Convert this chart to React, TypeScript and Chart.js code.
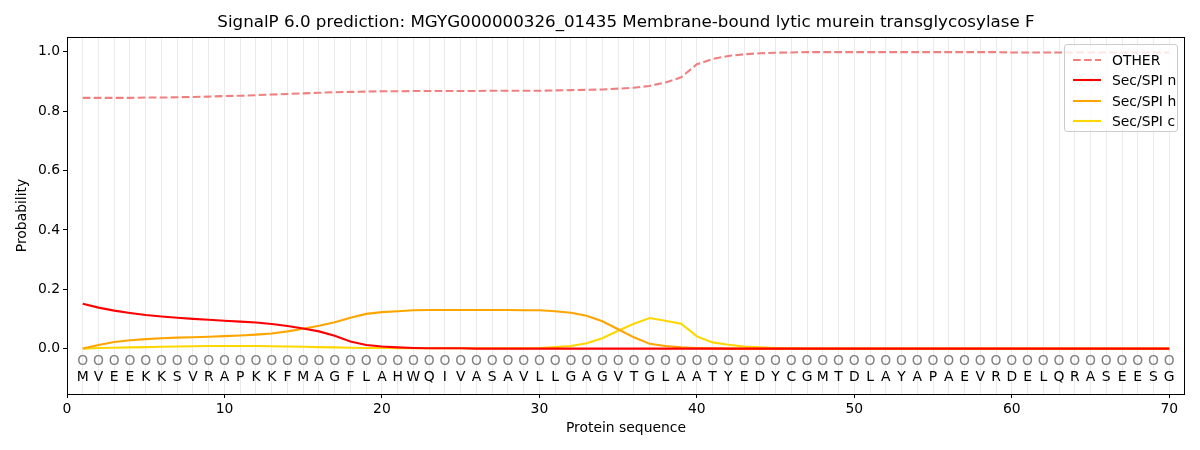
import React, { useEffect, useRef } from "react";
import { Chart, registerables } from "chart.js";

Chart.register(...registerables);

const sequence = "MVEEKKSVRAPKKFMAGFLAHWQIVASAVLLGAGVTGLAATYEDYCGMTDLAYAPAEVRDELQRASEESG".split("");
const positions = sequence.map((_, i) => i + 1);

const otherProb = [
  0.845, 0.845, 0.845, 0.845, 0.846, 0.846, 0.847, 0.848, 0.849, 0.851,
  0.852, 0.854, 0.856, 0.858, 0.86, 0.862, 0.864, 0.865, 0.866, 0.867,
  0.867, 0.868, 0.868, 0.868, 0.868, 0.868, 0.869, 0.869, 0.869, 0.869,
  0.87, 0.871, 0.872, 0.873, 0.876, 0.879, 0.885, 0.897, 0.914, 0.958,
  0.976, 0.986, 0.992, 0.995, 0.997, 0.998, 0.999, 0.999, 0.999, 0.999,
  0.999, 0.999, 0.999, 0.999, 0.999, 0.999, 0.999, 0.999, 0.999, 0.998,
  0.998, 0.998, 0.998, 0.998, 0.998, 0.998, 0.998, 0.998, 0.998, 0.998,
];
const secN = [
  0.151, 0.138, 0.128, 0.12, 0.113, 0.108, 0.104, 0.1, 0.097, 0.094,
  0.091, 0.088, 0.083, 0.076, 0.068, 0.058, 0.043, 0.024, 0.012, 0.007,
  0.004, 0.002, 0.001, 0.001, 0.001, 0, 0, 0, 0, 0,
  0, 0, 0, 0, 0, 0, 0, 0, 0, 0,
  0, 0, 0, 0, 0, 0, 0, 0, 0, 0,
  0, 0, 0, 0, 0, 0, 0, 0, 0, 0,
  0, 0, 0, 0, 0, 0, 0, 0, 0, 0,
];
const secH = [
  0.0, 0.012, 0.022, 0.028, 0.032, 0.035, 0.037, 0.038, 0.04, 0.042,
  0.044, 0.047, 0.051, 0.058, 0.067, 0.077, 0.089, 0.104, 0.117, 0.123,
  0.126, 0.129, 0.13, 0.13, 0.13, 0.13, 0.13, 0.13, 0.129, 0.129,
  0.126, 0.121, 0.111, 0.092, 0.065, 0.038, 0.016, 0.009, 0.004, 0.002,
  0.001, 0, 0, 0, 0, 0, 0, 0, 0, 0,
  0, 0, 0, 0, 0, 0, 0, 0, 0, 0,
  0, 0, 0, 0, 0, 0, 0, 0, 0, 0,
];
const secC = [
  0.0, 0.002, 0.003, 0.004, 0.005, 0.006, 0.007, 0.008, 0.009, 0.009,
  0.009, 0.009, 0.008, 0.007, 0.006, 0.005, 0.004, 0.003, 0.002, 0.002,
  0.001, 0.001, 0.001, 0.001, 0.001, 0.001, 0.001, 0.001, 0.001, 0.002,
  0.005, 0.009, 0.018, 0.035, 0.06, 0.084, 0.103, 0.094, 0.084, 0.041,
  0.021, 0.013, 0.007, 0.004, 0.002, 0.001, 0, 0, 0, 0,
  0, 0, 0, 0, 0, 0, 0, 0, 0, 0,
  0, 0, 0, 0, 0, 0, 0, 0, 0, 0,
];

const yTicks = [0, 0.2, 0.4, 0.6, 0.8, 1.0];
const xTicks = [0, 10, 20, 30, 40, 50, 60, 70];

const titleText =
  "SignalP 6.0 prediction: MGYG000000326_01435 Membrane-bound lytic murein transglycosylase F";

const FONT = "'DejaVu Sans', sans-serif";
const LW = 2.1;
const DASH = [7.7, 3.3];

const legendItems = [
  { label: "OTHER", color: "#f08080", dashed: true },
  { label: "Sec/SPI n", color: "#ff0000", dashed: false },
  { label: "Sec/SPI h", color: "#ffa500", dashed: false },
  { label: "Sec/SPI c", color: "#ffd700", dashed: false },
];

const App = () => {
  const chartRef = useRef<any>(null);
  const chartInstanceRef = useRef<any>(null);

  useEffect(() => {
    document.body.style.margin = "0";
    const ctx = chartRef.current.getContext("2d");

    if (chartInstanceRef.current) {
      chartInstanceRef.current.destroy();
    }

    // residue letters below the curves, then frame and title on top
    const decorPlugin = {
      id: "decor",
      afterDatasetsDraw(chart: any) {
        const c = chart.ctx;
        const xs = chart.scales.x;
        const ys = chart.scales.y;
        c.save();
        c.textAlign = "center";
        c.textBaseline = "middle";
        sequence.forEach((aa, i) => {
          const px = xs.getPixelForValue(positions[i]);
          c.font = `13.9px ${FONT}`;
          c.fillStyle = "#808080";
          c.fillText("O", px, ys.getPixelForValue(-0.044));
          c.fillStyle = "#000";
          c.fillText(aa, px, ys.getPixelForValue(-0.098));
        });
        c.restore();
      },
      afterDraw(chart: any) {
        const c = chart.ctx;
        const a = chart.chartArea;
        c.save();
        c.strokeStyle = "#000";
        c.lineWidth = 1;
        c.strokeRect(a.left + 0.5, a.top + 0.5, a.right - a.left - 1, a.bottom - a.top);
        c.font = `16.7px ${FONT}`;
        c.fillStyle = "#000";
        c.textAlign = "center";
        c.textBaseline = "middle";
        c.fillText(titleText, (a.left + a.right) / 2, 23);
        c.restore();
      },
    };

    chartInstanceRef.current = new Chart(ctx, {
      type: "line",
      data: {
        labels: positions,
        datasets: [
          {
            label: "OTHER",
            data: positions.map((p, i) => ({ x: p, y: otherProb[i] })),
            borderColor: "#f08080",
            borderWidth: LW,
            borderDash: DASH,
            pointRadius: 0,
          },
          {
            label: "Sec/SPI n",
            data: positions.map((p, i) => ({ x: p, y: secN[i] })),
            borderColor: "#ff0000",
            borderWidth: LW,
            pointRadius: 0,
          },
          {
            label: "Sec/SPI h",
            data: positions.map((p, i) => ({ x: p, y: secH[i] })),
            borderColor: "#ffa500",
            borderWidth: LW,
            pointRadius: 0,
          },
          {
            label: "Sec/SPI c",
            data: positions.map((p, i) => ({ x: p, y: secC[i] })),
            borderColor: "#ffd700",
            borderWidth: LW,
            pointRadius: 0,
          },
        ],
      },
      options: {
        animation: false,
        responsive: true,
        maintainAspectRatio: false,
        layout: { padding: { top: 37, right: 15, left: 0, bottom: 0 } },
        plugins: {
          legend: { display: false },
          title: { display: false },
          tooltip: { enabled: false },
        },
        scales: {
          x: {
            type: "linear",
            min: 0,
            max: 71,
            afterBuildTicks: (scale: any) => {
              scale.ticks = [0].concat(positions).map((v) => ({ value: v }));
            },
            afterFit: (scale: any) => {
              scale.height = 56;
            },
            ticks: {
              autoSkip: false,
              maxRotation: 0,
              padding: 3,
              color: "#000",
              font: { family: FONT, size: 13.9 },
              callback: (v: any) => (xTicks.includes(v) ? String(v) : ""),
            },
            grid: {
              drawOnChartArea: true,
              tickLength: 4,
              color: (c: any) => (c.tick && c.tick.value >= 1 ? "rgba(0,0,0,0.08)" : "rgba(0,0,0,0)"),
              tickColor: (c: any) => (c.tick && xTicks.includes(c.tick.value) ? "#000" : "rgba(0,0,0,0)"),
              lineWidth: 1,
            },
            border: { display: false },
            title: {
              display: true,
              text: "Protein sequence",
              color: "#000",
              font: { family: FONT, size: 13.9 },
              padding: { top: 0, bottom: 13 },
            },
          },
          y: {
            min: -0.153,
            max: 1.05,
            afterBuildTicks: (scale: any) => {
              scale.ticks = yTicks.map((v) => ({ value: v }));
            },
            afterFit: (scale: any) => {
              scale.width = 67;
            },
            ticks: {
              padding: 3,
              color: "#000",
              font: { family: FONT, size: 13.9 },
              callback: (v: any) => Number(v).toFixed(1),
            },
            grid: {
              drawOnChartArea: false,
              tickLength: 4,
              tickColor: "#000",
            },
            border: { display: false },
            title: {
              display: true,
              text: "Probability",
              color: "#000",
              font: { family: FONT, size: 13.9 },
              padding: { top: 14, bottom: 0 },
            },
          },
        },
      },
      plugins: [decorPlugin],
    } as any);

    return () => {
      if (chartInstanceRef.current) {
        chartInstanceRef.current.destroy();
        chartInstanceRef.current = null;
      }
    };
  }, []);

  return (
    <div style={{ position: "relative", width: 1200, height: 450, background: "#fff" }}>
      <canvas ref={chartRef} />
      <div
        style={{
          position: "absolute",
          left: 1064,
          top: 44,
          width: 114,
          height: 88,
          boxSizing: "border-box",
          border: "1px solid #cccccc",
          borderRadius: 3,
          background: "rgba(255,255,255,0.8)",
          fontFamily: FONT,
          fontSize: 13.9,
          padding: "5px 0 0 8px",
        }}
      >
        {legendItems.map((item) => (
          <div key={item.label} style={{ display: "flex", alignItems: "center", height: 20.3 }}>
            <svg width={28} height={4} style={{ marginRight: 11 }}>
              <line
                x1={0}
                y1={2}
                x2={28}
                y2={2}
                stroke={item.color}
                strokeWidth={LW}
                strokeDasharray={item.dashed ? DASH.join(" ") : undefined}
              />
            </svg>
            <span>{item.label}</span>
          </div>
        ))}
      </div>
    </div>
  );
};

export default App;
